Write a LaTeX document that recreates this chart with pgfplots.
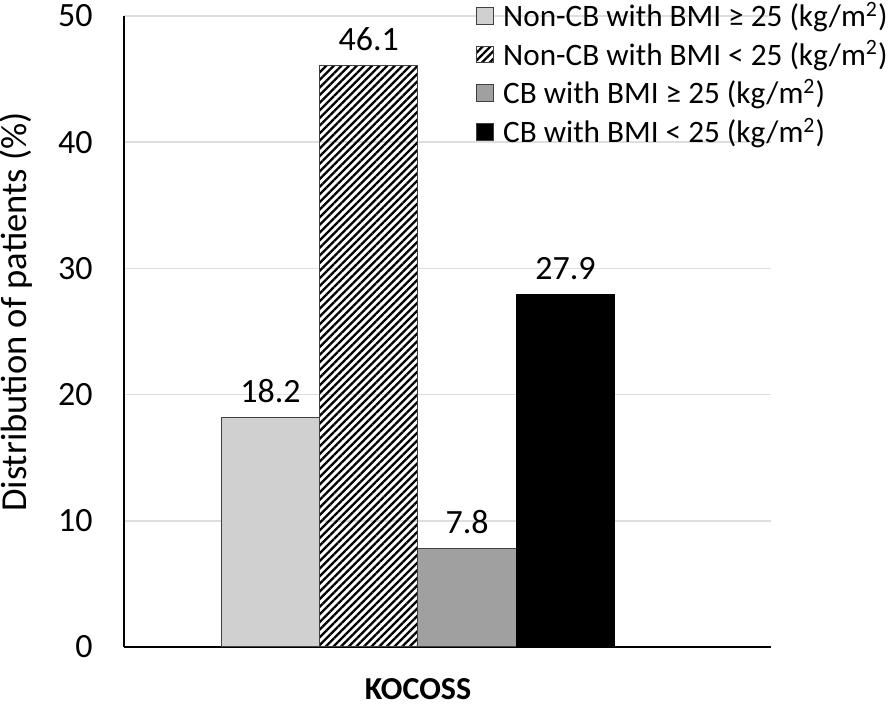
\documentclass[border=0pt]{standalone}
\usepackage{fontspec}
\setmainfont{Carlito}
\usepackage{pgfplots}
\pgfplotsset{compat=1.18}
\usetikzlibrary{patterns.meta}
\definecolor{lgray}{RGB}{208,208,208}
\definecolor{mgray}{RGB}{160,160,160}
\definecolor{gridc}{RGB}{222,222,222}
\begin{document}
\begin{tikzpicture}
\useasboundingbox (-62pt,-29pt) rectangle (386pt,323.5pt);
\begin{axis}[
  at={(0,0)}, anchor=south west,
  scale only axis, width=323.5pt, height=315.5pt,
  ymin=0, ymax=50, ytick={0,10,20,30,40,50},
  xmin=-2.99, xmax=3.59,
  xtick={0}, xticklabels={KOCOSS},
  ybar, bar width=1, bar shift=0pt,
  axis x line=bottom, axis y line=left,
  axis line style={-, line width=1pt, black},
  major tick length=0pt,
  ymajorgrids, grid style={gridc, line width=0.8pt},
  /pgf/number format/assume math mode=true,
  yticklabel style={font=\fontsize{17}{20}\selectfont, inner sep=0pt, xshift=-15.5pt},
  xticklabel style={font=\fontsize{16}{19}\selectfont\bfseries, inner sep=0pt, anchor=north, yshift=-15.5pt},
  ylabel={Distribution of patients (\%)},
  every axis y label/.style={at={(axis description cs:0,0.531)}, xshift=-54pt, rotate=90, anchor=center, font=\fontsize{18.3}{22}\selectfont},
  nodes near coords={\pgfmathprintnumber[fixed,fixed zerofill,precision=1]{\pgfplotspointmeta}},
  every node near coord/.append style={font=\fontsize{17}{20}\selectfont, anchor=base, inner sep=0pt, yshift=7.5pt},
  legend style={at={(axis description cs:0.544,1.029)}, anchor=north west, draw=none, fill=none,
    font=\fontsize{15.6}{18}\selectfont, row sep=1.5pt, inner sep=0pt,
    /tikz/every odd column/.append style={column sep=2.5pt}},
  legend cell align=left,
  legend image code/.code={\draw[#1, draw=black!75, line width=0.5pt] (0pt,-4.2pt) rectangle (8.4pt,4.2pt);},
]
\addplot[fill=lgray, draw=black!75, line width=0.5pt] coordinates {(-1.5,18.2)};
\addplot[pattern={Lines[angle=45,distance=2.7pt,line width=1.15pt]}, pattern color=black, draw=black!75, line width=0.5pt] coordinates {(-0.5,46.1)};
\addplot[fill=mgray, draw=black!75, line width=0.5pt] coordinates {(0.5,7.8)};
\addplot[fill=black, draw=black, line width=0.5pt] coordinates {(1.5,27.9)};
\legend{Non-CB with BMI ≥ 25 (kg/m\textsuperscript{2}), Non-CB with BMI < 25 (kg/m\textsuperscript{2}), CB with BMI ≥ 25 (kg/m\textsuperscript{2}), CB with BMI < 25 (kg/m\textsuperscript{2})}
\end{axis}
\end{tikzpicture}
\end{document}
